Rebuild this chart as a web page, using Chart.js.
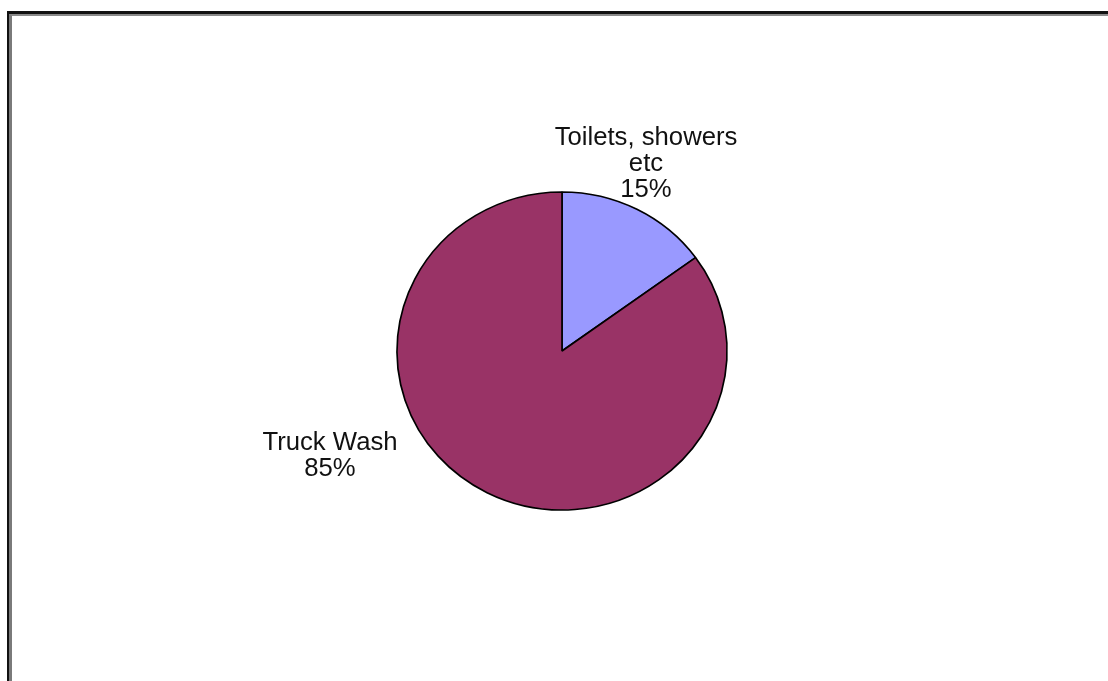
<!DOCTYPE html>
<html>
<head>
<meta charset="utf-8">
<script src="https://cdn.jsdelivr.net/npm/chart.js@4.4.1/dist/chart.umd.min.js"></script>
<style>
  html, body { margin: 0; padding: 0; background: #fff; }
  body { width: 1108px; height: 681px; position: relative; overflow: hidden; }
  .frame-dark { position: absolute; left: 7px; top: 11px; width: 1200px; height: 800px;
                border-top: 3px solid #111; border-left: 2px solid #111; }
  .frame-grey { position: absolute; left: 9px; top: 14px; width: 1200px; height: 800px;
                border-top: 2px solid #8a8a8a; border-left: 3px solid #7a7a7a; }
  #wrap { position: absolute; left: 0; top: 0; width: 1108px; height: 681px; }
</style>
</head>
<body>
<div class="frame-dark"></div>
<div class="frame-grey"></div>
<div id="wrap"><canvas id="chart"></canvas></div>
<script>
// Water use split
const categories = ['Toilets, showers etc', 'Truck Wash'];
const shares = [15, 85];
const labelLines = [['Toilets, showers', 'etc', '15%'], ['Truck Wash', '85%']];
const sliceColors = ['#9999FF', '#993366'];

// Pie is slightly wider than tall
const STRETCH_X = 1.038;

const ellipsePie = {
  id: 'ellipsePie',
  beforeDatasetsDraw(chart) {
    const arc = chart.getDatasetMeta(0).data[0];
    const ctx = chart.ctx;
    ctx.save();
    ctx.translate(arc.x, arc.y);
    ctx.scale(STRETCH_X, 1);
    ctx.translate(-arc.x, -arc.y);
  },
  afterDatasetsDraw(chart) {
    chart.ctx.restore();
  }
};

// Slice labels placed around the pie, offsets measured from the centre
const sliceLabels = {
  id: 'sliceLabels',
  afterDraw(chart) {
    const meta = chart.getDatasetMeta(0);
    const cx = meta.data[0].x, cy = meta.data[0].y;
    const spots = [
      { dx: 84, dy: -206 },
      { dx: -232, dy: 99 }
    ];
    const ctx = chart.ctx;
    ctx.save();
    ctx.font = '25.7px "Liberation Sans", Arial, sans-serif';
    ctx.fillStyle = '#111';
    ctx.textAlign = 'center';
    ctx.textBaseline = 'alphabetic';
    labelLines.forEach((lines, i) => {
      const s = spots[i];
      lines.forEach((t, k) => {
        ctx.fillText(t, cx + s.dx, cy + s.dy + k * 26);
      });
    });
    ctx.restore();
  }
};

new Chart(document.getElementById('chart'), {
  type: 'pie',
  data: {
    labels: categories,
    datasets: [{
      data: shares,
      backgroundColor: sliceColors,
      borderColor: '#000',
      borderWidth: 1.6,
      radius: 159
    }]
  },
  options: {
    responsive: true,
    maintainAspectRatio: false,
    animation: false,
    layout: { padding: { left: 16, right: 0, top: 21, bottom: 0 } },
    plugins: {
      legend: { display: false },
      tooltip: { enabled: false },
      title: { display: false }
    }
  },
  plugins: [ellipsePie, sliceLabels]
});
</script>
</body>
</html>
